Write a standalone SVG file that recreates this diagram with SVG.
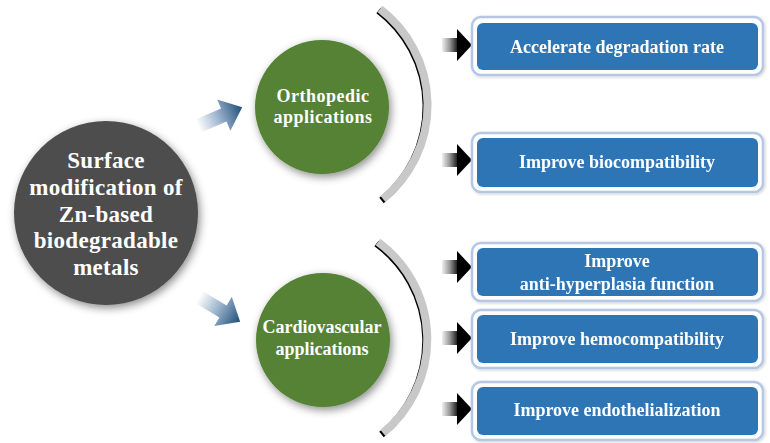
<svg xmlns="http://www.w3.org/2000/svg" width="770" height="443" viewBox="0 0 770 443">
<defs>
<style>
.t{font-family:"Liberation Serif","Times New Roman",serif;font-weight:bold;fill:#fff;text-anchor:middle}
.big{font-size:23px;letter-spacing:0.3px}
.mid{font-size:18px}
.box{font-size:18px}
.outer{fill:#fff;stroke:#b4c7e7;stroke-width:2.5}
.inner{fill:#2e75b6}
.arc{fill:none;stroke:#c8c8c8;stroke-width:8}
.arcsh{fill:none;stroke:#000;stroke-width:7;filter:url(#blur1)}
.barrow-shaft{fill:url(#gShaft)}
.barrow-head{fill:#000}
.blue-arrow{fill:url(#gBlue)}
</style>
<filter id="sh" x="-30%" y="-30%" width="160%" height="160%">
<feDropShadow dx="2" dy="3" stdDeviation="4" flood-color="#000" flood-opacity="0.45"/>
</filter>
<filter id="shb" x="-10%" y="-30%" width="120%" height="160%">
<feDropShadow dx="1" dy="1" stdDeviation="1.5" flood-color="#000" flood-opacity="0.2"/>
</filter>
<filter id="blur1" x="-20%" y="-20%" width="140%" height="140%">
<feGaussianBlur stdDeviation="0.7"/>
</filter>
<linearGradient id="gBlue" x1="0" y1="0" x2="1" y2="0">
<stop offset="0" stop-color="#ffffff"/>
<stop offset="0.45" stop-color="#9fb6cf"/>
<stop offset="1" stop-color="#1f4e79"/>
</linearGradient>
<linearGradient id="gShaft" x1="0" y1="0" x2="1" y2="0">
<stop offset="0" stop-color="#f0f0f0"/>
<stop offset="0.5" stop-color="#9a9a9a"/>
<stop offset="1" stop-color="#222"/>
</linearGradient>
<g id="barrow">
<rect class="barrow-shaft" x="0" y="-7" width="15" height="14"/>
<polygon class="barrow-head" points="15,-16 30,0 15,16"/>
</g>
<polygon id="barw" class="blue-arrow" points="0,-7 28,-7 28,-17 48,0 28,17 28,7 0,7"/>
</defs>

<rect width="770" height="443" fill="#fff"/>

<g id="connectors">
<use href="#barw" transform="translate(198,126) rotate(-23)"/>
<use href="#barw" transform="translate(199,297) rotate(31)"/>
<path class="arcsh" d="M 380 9 A 121 121 0 0 1 383 199" transform="translate(-1.5,1.5)"/>
<path class="arc" d="M 380 9 A 121 121 0 0 1 383 199"/>
<path class="arcsh" d="M 378 242 A 121 121 0 0 1 383 433" transform="translate(-1.5,1.5)"/>
<path class="arc" d="M 378 242 A 121 121 0 0 1 383 433"/>
<use href="#barrow" transform="translate(442,45)"/>
<use href="#barrow" transform="translate(442,160)"/>
<use href="#barrow" transform="translate(442,267)"/>
<use href="#barrow" transform="translate(442,338)"/>
<use href="#barrow" transform="translate(442,409)"/>
</g>

<g id="center">
<circle cx="106" cy="213" r="92" fill="#4d4d4d" filter="url(#sh)"/>
<text class="t big" x="106"><tspan x="106" y="168">Surface</tspan><tspan x="106" y="195">modification of</tspan><tspan x="106" y="222">Zn-based</tspan><tspan x="106" y="248">biodegradable</tspan><tspan x="106" y="275">metals</tspan></text>
</g>

<g id="orthopedic">
<circle cx="322" cy="107" r="67" fill="#548235" filter="url(#sh)"/>
<text class="t mid" letter-spacing="0.5"><tspan x="323" y="102">Orthopedic</tspan><tspan x="323" y="123">applications</tspan></text>
</g>

<g id="cardiovascular">
<circle cx="323" cy="340" r="67" fill="#548235" filter="url(#sh)"/>
<text class="t mid"><tspan x="322" y="333">Cardiovascular</tspan><tspan x="322" y="355">applications</tspan></text>
</g>

<g id="box1" filter="url(#shb)">
<rect class="outer" x="472" y="17" width="291" height="58" rx="9"/>
<rect class="inner" x="477" y="23" width="281" height="47" rx="6"/>
<text class="t box" x="617" y="53">Accelerate degradation rate</text>
</g>

<g id="box2" filter="url(#shb)">
<rect class="outer" x="472" y="133" width="291" height="59" rx="9"/>
<rect class="inner" x="477" y="138" width="281" height="49" rx="6"/>
<text class="t box" x="617" y="168">Improve biocompatibility</text>
</g>

<g id="box3" filter="url(#shb)">
<rect class="outer" x="472" y="243" width="291" height="58" rx="9"/>
<rect class="inner" x="477" y="248" width="281" height="48" rx="6"/>
<text class="t box"><tspan x="617" y="267">Improve</tspan><tspan x="617" y="290">anti-hyperplasia function</tspan></text>
</g>

<g id="box4" filter="url(#shb)">
<rect class="outer" x="472" y="310" width="291" height="58" rx="9"/>
<rect class="inner" x="477" y="315" width="281" height="48" rx="6"/>
<text class="t box" x="617" y="345">Improve hemocompatibility</text>
</g>

<g id="box5" filter="url(#shb)">
<rect class="outer" x="472" y="382" width="291" height="58" rx="9"/>
<rect class="inner" x="477" y="387" width="281" height="48" rx="6"/>
<text class="t box" x="617" y="416">Improve endothelialization</text>
</g>
</svg>
